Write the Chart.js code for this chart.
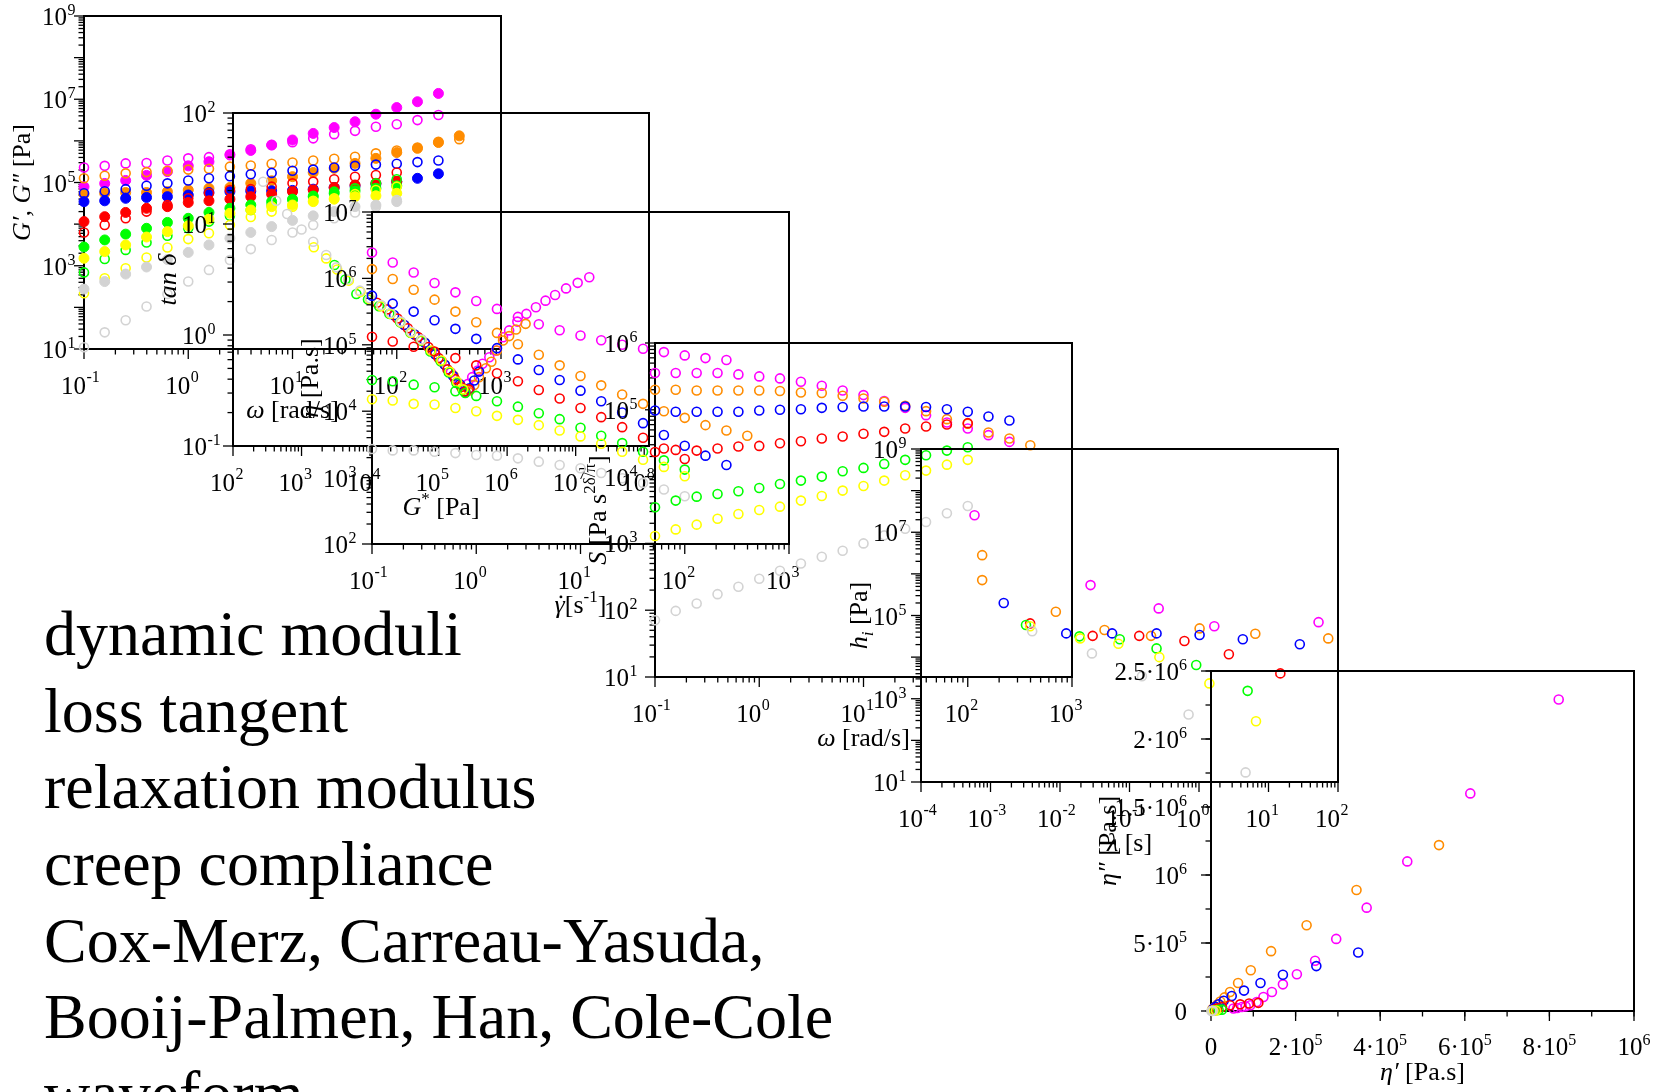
<!DOCTYPE html>
<html>
<head>
<meta charset="utf-8">
<title>rheology panels</title>
<script src="https://cdn.jsdelivr.net/npm/chart.js@4.4.1/dist/chart.umd.min.js"></script>
<style>
  html, body { margin: 0; padding: 0; background: #fff; }
  body { width: 1655px; height: 1092px; overflow: hidden; position: relative; }
  canvas { position: absolute; left: 0; top: 0; }
  #topics { position: absolute; left: 44px; top: 596px; font-family: 'Liberation Serif', 'Times New Roman', serif;
            font-size: 64px; line-height: 76.67px; color: #000; white-space: nowrap; }
</style>
</head>
<body>
<div id="topics">dynamic moduli<br>loss tangent<br>relaxation modulus<br>creep compliance<br>Cox-Merz, Carreau-Yasuda,<br>Booij-Palmen, Han, Cole-Cole<br>waveform</div>
<canvas id="p1" width="1655" height="1092"></canvas>
<canvas id="p2" width="1655" height="1092"></canvas>
<canvas id="p3" width="1655" height="1092"></canvas>
<canvas id="p4" width="1655" height="1092"></canvas>
<canvas id="p5" width="1655" height="1092"></canvas>
<canvas id="p6" width="1655" height="1092"></canvas>
<script>
// ---------- data ----------
const omega = [0.1, 0.158, 0.251, 0.398, 0.631, 1, 1.58, 2.51, 3.98, 6.31, 10, 15.8, 25.1, 39.8, 63.1, 100, 158, 251, 398];

// panel 1: G' (filled) and G'' (open) [Pa] vs omega
const p1MagentaG1 = [7.9e4, 9.5e4, 1.12e5, 1.48e5, 1.82e5, 2.51e5, 3.16e5, 4.57e5, 5.89e5, 7.94e5, 1.05e6, 1.51e6, 2.09e6, 2.88e6, 4.37e6, 6.31e6, 8.71e6, 1.38e7];
const p1MagentaG2 = [2.29e5, 2.51e5, 2.88e5, 2.95e5, 3.39e5, 3.8e5, 4.07e5, 4.79e5, 6.31e5, 7.94e5, 9.33e5, 1.15e6, 1.45e6, 1.74e6, 2.19e6, 2.51e6, 3.16e6, 4.17e6];
const p1OrangeG1 = [5.25e4, 5.5e4, 5.75e4, 5.75e4, 6.03e4, 6.61e4, 7.24e4, 7.59e4, 9.55e4, 1.1e5, 1.38e5, 1.74e5, 2.19e5, 2.88e5, 3.8e5, 5.25e5, 6.61e5, 9.12e5, 1.32e6];
const p1OrangeG2 = [1.26e5, 1.45e5, 1.66e5, 1.78e5, 1.91e5, 2.04e5, 2.14e5, 2.4e5, 2.57e5, 2.82e5, 3.02e5, 3.39e5, 3.72e5, 4.17e5, 5.01e5, 5.89e5, 6.92e5, 9.55e5, 1.1e6];
const p1BlueG1 = [3.47e4, 3.63e4, 4.17e4, 4.37e4, 4.57e4, 5.01e4, 5.75e4, 6.03e4, 6.17e4, 6.31e4, 6.46e4, 6.92e4, 7.59e4, 8.32e4, 9.33e4, 1.05e5, 1.26e5, 1.62e5];
const p1BlueG2 = [5.5e4, 6.17e4, 6.92e4, 8.32e4, 9.55e4, 1.12e5, 1.26e5, 1.41e5, 1.58e5, 1.7e5, 1.91e5, 2.04e5, 2.29e5, 2.51e5, 2.69e5, 2.82e5, 3.09e5, 3.39e5];
const p1RedG1 = [1.15e4, 1.51e4, 1.91e4, 2.4e4, 2.63e4, 3.31e4, 3.63e4, 3.98e4, 4.57e4, 5.25e4, 6.03e4, 6.61e4, 7.59e4, 8.71e4, 9.55e4, 1.05e5];
const p1RedG2 = [6.31e3, 9.55e3, 1.38e4, 2.0e4, 2.88e4, 4.17e4, 5.5e4, 6.61e4, 6.92e4, 7.94e4, 9.55e4, 1.05e5, 1.2e5, 1.38e5, 1.51e5, 1.74e5];
const p1GreenG1 = [2.82e3, 4.17e3, 5.75e3, 7.94e3, 1.1e4, 1.38e4, 1.91e4, 2.4e4, 2.88e4, 3.47e4, 3.98e4, 4.57e4, 5.5e4, 6.31e4, 7.24e4, 8.32e4];
const p1GreenG2 = [692, 1.45e3, 2.4e3, 3.63e3, 5.25e3, 7.94e3, 1.15e4, 1.58e4, 2.19e4, 2.88e4, 3.8e4, 4.79e4, 6.03e4, 7.24e4, 9.55e4, 1.2e5];
const p1YellowG1 = [1.51e3, 2.19e3, 3.16e3, 4.9e3, 6.61e3, 9.12e3, 1.32e4, 1.82e4, 2.19e4, 2.63e4, 2.88e4, 3.47e4, 3.98e4, 4.57e4, 4.79e4, 5.5e4];
const p1YellowG2 = [219, 501, 871, 1.58e3, 2.75e3, 4.37e3, 6.03e3, 9.55e3, 1.48e4, 2.0e4, 2.63e4, 3.63e4, 4.17e4, 5.25e4, 6.61e4, 7.94e4];
const p1GrayG1 = [275, 417, 631, 933, 1.41e3, 2.09e3, 3.16e3, 4.57e3, 6.31e3, 8.71e3, 1.23e4, 1.58e4, 2.0e4, 2.63e4, 2.88e4, 3.47e4];
const p1GrayG2 = [11.0, 25.1, 49.0, 105, 209, 417, 794, 1.38e3, 2.51e3, 4.17e3, 6.31e3, 9.55e3, 1.38e4, 1.91e4, 2.63e4, 3.8e4];

// panel 2: [G* (Pa), tan delta]
const p2Gray = [[275, 24.0], [427, 16.2], [617, 12.3], [1000, 8.91], [1480, 6.92], [2290, 5.25], [3240, 4.07], [4790, 3.16], [7080, 2.51], [10000, 2.14], [14500, 1.86], [20000, 1.58], [28200, 1.32], [39800, 1.07], [56200, 0.912]];
const p2Yellow = [[1510, 6.17], [2290, 4.9], [3310, 3.89], [4900, 3.09], [7240, 2.45], [10000, 2.1], [14500, 1.82], [20000, 1.55], [28200, 1.3], [39800, 1.05], [56200, 0.9], [77600, 0.724], [110000, 0.589], [145000, 0.468], [186000, 0.38], [229000, 0.324]];
const p2Green = [[3020, 4.27], [4370, 3.16], [6310, 2.34], [9330, 2.09], [13500, 1.82], [19100, 1.55], [27500, 1.3], [38900, 1.05], [55000, 0.89], [76000, 0.71], [107000, 0.58], [141000, 0.46], [182000, 0.37], [224000, 0.32], [245000, 0.3]];
const p2Red = [[12600, 1.95], [17800, 1.7], [25100, 1.41], [35500, 1.15], [50100, 0.96], [70800, 0.78], [100000, 0.62], [135000, 0.49], [174000, 0.4], [214000, 0.34], [245000, 0.31], [275000, 0.324]];
const p2Blue = [[22400, 1.51], [31600, 1.23], [44700, 1.01], [63100, 0.85], [89100, 0.67], [123000, 0.54], [162000, 0.43], [204000, 0.36], [240000, 0.31], [282000, 0.331], [331000, 0.389], [389000, 0.468]];
const p2Orange = [[31600, 1.23], [44700, 1.01], [63100, 0.85], [89100, 0.67], [123000, 0.54], [166000, 0.43], [209000, 0.35], [245000, 0.31], [282000, 0.316], [331000, 0.355], [389000, 0.417], [490000, 0.501], [589000, 0.575], [708000, 0.724], [871000, 0.891], [1.07e6, 0.977], [1.35e6, 1.12], [1.86e6, 1.26]];
const p2Magenta = [[56200, 0.912], [79400, 0.72], [112000, 0.58], [151000, 0.46], [195000, 0.37], [240000, 0.31], [269000, 0.363], [309000, 0.417], [372000, 0.479], [437000, 0.55], [550000, 0.631], [692000, 0.724], [871000, 0.955], [1.07e6, 1.1], [1.41e6, 1.32], [1.91e6, 1.55], [2.63e6, 1.78], [3.63e6, 2.04], [5.01e6, 2.29], [7.24e6, 2.63], [1.07e7, 2.95], [1.58e7, 3.31]];

// panel 3: eta [Pa.s] vs shear rate (same grid as omega)
const p3Magenta = [2.45e6, 1.74e6, 1.23e6, 8.51e5, 6.17e5, 4.57e5, 3.47e5, 2.63e5, 2.04e5, 1.66e5, 1.38e5, 1.17e5, 1.0e5, 8.71e4, 7.76e4, 6.92e4, 6.31e4, 5.89e4];
const p3Orange = [1.38e6, 9.77e5, 6.76e5, 4.79e5, 3.16e5, 2.19e5, 1.51e5, 1.02e5, 7.08e4, 4.9e4, 3.39e4, 2.45e4, 1.78e4, 1.29e4, 1.0e4, 7.94e3, 6.17e3, 5.13e3, 4.27e3];
const p3Blue = [5.5e5, 4.17e5, 3.16e5, 2.34e5, 1.74e5, 1.23e5, 8.91e4, 6.03e4, 4.17e4, 2.95e4, 2.04e4, 1.41e4, 9.55e3, 6.61e3, 4.37e3, 3.02e3, 2.14e3, 1.55e3];
const p3Red = [1.32e5, 1.12e5, 9.33e4, 7.94e4, 6.31e4, 4.9e4, 3.72e4, 2.82e4, 2.09e4, 1.55e4, 1.12e4, 8.13e3, 5.75e3, 3.98e3, 2.75e3, 1.91e3];
const p3Green = [2.95e4, 2.82e4, 2.51e4, 2.29e4, 2.0e4, 1.7e4, 1.41e4, 1.17e4, 9.33e3, 7.59e3, 5.62e3, 4.27e3, 3.31e3, 2.45e3, 1.82e3, 1.32e3];
const p3Yellow = [1.51e4, 1.45e4, 1.29e4, 1.26e4, 1.12e4, 1.0e4, 8.51e3, 7.41e3, 6.17e3, 5.13e3, 4.17e3, 3.24e3, 2.45e3, 1.86e3, 1.45e3, 1.05e3];
const p3Gray = [2.69e3, 2.57e3, 2.57e3, 2.45e3, 2.34e3, 2.19e3, 2.14e3, 1.95e3, 1.74e3, 1.55e3, 1.38e3, 1.17e3, 977, 832, 661, 525];

// panel 4: S vs omega
const p4Magenta = [3.55e5, 3.55e5, 3.55e5, 3.55e5, 3.39e5, 3.16e5, 2.95e5, 2.63e5, 2.29e5, 1.95e5, 1.66e5, 1.35e5, 1.07e5, 8.32e4, 6.46e4, 5.25e4, 4.17e4, 3.31e4];
const p4Orange = [2.0e5, 2.0e5, 1.95e5, 1.95e5, 1.95e5, 1.95e5, 1.91e5, 1.82e5, 1.78e5, 1.62e5, 1.48e5, 1.32e5, 1.15e5, 9.55e4, 7.24e4, 6.17e4, 4.57e4, 3.72e4, 2.95e4];
const p4Blue = [9.77e4, 9.33e4, 9.33e4, 9.33e4, 9.33e4, 9.77e4, 1.0e5, 1.02e5, 1.07e5, 1.1e5, 1.12e5, 1.12e5, 1.12e5, 1.1e5, 1.02e5, 9.33e4, 7.94e4, 6.92e4];
const p4Red = [2.34e4, 2.51e4, 2.45e4, 2.63e4, 2.82e4, 2.88e4, 3.16e4, 3.39e4, 3.72e4, 3.98e4, 4.37e4, 4.68e4, 5.25e4, 5.62e4, 6.03e4, 6.31e4];
const p4Green = [3.47e3, 4.37e3, 5.01e3, 5.5e3, 6.03e3, 6.76e3, 7.76e3, 8.71e3, 1.0e4, 1.2e4, 1.35e4, 1.55e4, 1.78e4, 2.09e4, 2.45e4, 2.75e4];
const p4Yellow = [1.29e3, 1.62e3, 1.91e3, 2.34e3, 2.75e3, 3.16e3, 3.55e3, 4.37e3, 5.13e3, 6.17e3, 7.24e3, 8.71e3, 1.05e4, 1.23e4, 1.51e4, 1.78e4];
const p4Gray = [70.8, 97.7, 126, 174, 224, 295, 389, 501, 631, 776, 1.0e3, 1.32e3, 1.66e3, 2.09e3, 2.82e3, 3.63e3];

// panel 5: [lambda (s), h_i (Pa)]
const p5Magenta = [[5.89e-4, 2.57e7], [2.75e-2, 5.37e5], [0.263, 1.48e5], [1.66, 5.5e4], [52.5, 6.92e4]];
const p5Orange = [[7.59e-4, 2.82e6], [7.59e-4, 7.08e5], [8.71e-3, 1.23e5], [4.37e-2, 4.47e4], [0.204, 3.24e4], [1.02, 4.9e4], [6.46, 3.63e4], [72.4, 2.82e4]];
const p5Blue = [[1.55e-3, 2.0e5], [1.23e-2, 3.72e4], [5.62e-2, 3.72e4], [0.245, 3.72e4], [1.02, 3.39e4], [4.27, 2.69e4], [28.2, 2.04e4]];
const p5Red = [[3.72e-3, 6.46e4], [2.95e-2, 3.24e4], [0.138, 3.24e4], [0.617, 2.45e4], [2.69, 1.17e4], [14.8, 4.07e3]];
const p5Green = [[3.24e-3, 5.89e4], [1.91e-2, 3.16e4], [7.24e-2, 2.69e4], [0.245, 1.62e4], [0.912, 6.46e3], [5.01, 1.55e3]];
const p5Yellow = [[3.72e-3, 5.5e4], [1.95e-2, 2.82e4], [6.92e-2, 2.09e4], [0.269, 1.0e4], [1.41, 2.34e3], [6.61, 288]];
const p5Gray = [[3.98e-3, 4.17e4], [2.88e-2, 1.23e4], [0.151, 3.47e3], [0.708, 417], [4.68, 17.0]];

// panel 6: Cole-Cole [eta', eta''] in Pa.s
const p6Magenta = [[8.22e5, 2.29e6], [6.13e5, 1.6e6], [4.64e5, 1.1e6], [3.68e5, 7.6e5], [2.96e5, 5.3e5], [2.46e5, 3.7e5], [2.03e5, 2.7e5], [1.7e5, 1.96e5], [1.44e5, 1.4e5], [1.24e5, 1.03e5], [1.08e5, 6.6e4], [9.3e4, 4.2e4], [8.2e4, 3.4e4], [7.3e4, 2.9e4], [6.2e4, 2.2e4], [5.3e4, 1.8e4]];
const p6Orange = [[5.39e5, 1.22e6], [3.44e5, 8.9e5], [2.26e5, 6.3e5], [1.42e5, 4.4e5], [9.4e4, 3.0e5], [6.4e4, 2.06e5], [4.5e4, 1.4e5], [3.2e4, 1.0e5], [2.2e4, 7.0e4], [1.5e4, 4.8e4], [1.0e4, 3.2e4], [6.0e3, 2.0e4], [3.0e3, 1.2e4]];
const p6Blue = [[3.48e5, 4.3e5], [2.49e5, 3.3e5], [1.7e5, 2.67e5], [1.17e5, 2.06e5], [7.8e4, 1.5e5], [4.9e4, 1.1e5], [3.0e4, 7.5e4], [1.8e4, 5.0e4], [1.0e4, 3.0e4], [5.0e3, 1.5e4]];
const p6Red = [[1.12e5, 6.0e4], [9.0e4, 5.5e4], [6.9e4, 4.9e4], [4.5e4, 4.2e4], [2.6e4, 2.9e4], [1.4e4, 1.8e4], [6.0e3, 8.0e3]];
const p6Green = [[2.6e4, 1.0e4], [1.8e4, 8.0e3], [1.1e4, 5.0e3], [5.0e3, 2.0e3]];
const p6Yellow = [[1.2e4, 4.0e3], [6.0e3, 2.0e3], [2.0e3, 1.0e3]];
const p6Gray = [[4.0e3, 1.0e3], [1.0e3, 500]];

// tick labels (decade exponents for the log axes)
const p1XExp = [-1, 0, 1, 2, 3], p1YExp = [1, 3, 5, 7, 9];
const p2XExp = [2, 3, 4, 5, 6, 7, 8], p2YExp = [-1, 0, 1, 2];
const p3XExp = [-1, 0, 1, 2, 3], p3YExp = [2, 3, 4, 5, 6, 7];
const p4XExp = [-1, 0, 1, 2, 3], p4YExp = [1, 2, 3, 4, 5, 6];
const p5XExp = [-4, -3, -2, -1, 0, 1, 2], p5YExp = [1, 3, 5, 7, 9];
const p6XTicks = [0, 2e5, 4e5, 6e5, 8e5, 1e6];
const p6XLabels = [['0', ''], ['2·10', '5'], ['4·10', '5'], ['6·10', '5'], ['8·10', '5'], ['10', '6']];
const p6YTicks = [0, 5e5, 1e6, 1.5e6, 2e6, 2.5e6];
const p6YLabels = [['0', ''], ['5·10', '5'], ['10', '6'], ['1.5·10', '6'], ['2·10', '6'], ['2.5·10', '6']];

const colors = { gray: '#d3d3d3', yellow: '#ffff00', green: '#00ff00', red: '#ff0000', blue: '#0000ff', orange: '#ff8c00', magenta: '#ff00ff' };

// ---------- helpers ----------
const W = 1655, H = 1092;
const FONT = "'Liberation Serif', 'Times New Roman', serif";
const fontOf = (size, italic) => (italic ? 'italic ' : '') + size + 'px ' + FONT;

function pts(xs, ys) { return ys.map((y, i) => ({ x: xs[i], y: y })); }
function pairs(list) { return list.map(p => ({ x: p[0], y: p[1] })); }
function open(data, color) {
    return { data: data, pointStyle: 'circle', pointRadius: 4.5, pointBorderWidth: 1.6, pointBorderColor: color,
             pointBackgroundColor: 'rgba(0,0,0,0)', showLine: false, clip: false };
}
function filled(data, color) {
    return { data: data, pointStyle: 'circle', pointRadius: 5, pointBorderWidth: 1, pointBorderColor: color,
             pointBackgroundColor: color, showLine: false, clip: false };
}

function decades(lo, hi) { const out = []; for (let e = lo; e <= hi; e++) out.push(Math.pow(10, e)); return out; }
function minors(min, max) {
    const out = [];
    for (let e = Math.floor(Math.log10(min)); e < Math.ceil(Math.log10(max)); e++) {
        for (let m = 2; m <= 9; m++) {
            const v = m * Math.pow(10, e);
            if (v > min * 1.0001 && v < max * 0.9999) out.push(v);
        }
    }
    return out;
}
function linMinors(min, max, step) { const out = []; for (let v = min; v <= max + 1e-9; v += step) out.push(v); return out; }

function partsWidth(ctx, parts, size) {
    let w = 0;
    parts.forEach(p => { ctx.font = fontOf(p.sup || p.sub ? Math.round(size * 0.65) : size, p.it); w += ctx.measureText(p.t).width; });
    return w;
}
function drawParts(ctx, parts, x, y, size, align) {
    const w = partsWidth(ctx, parts, size);
    let cx = align === 'center' ? x - w / 2 : (align === 'right' ? x - w : x);
    ctx.textAlign = 'left';
    ctx.textBaseline = 'alphabetic';
    parts.forEach(p => {
        const s = p.sup || p.sub ? Math.round(size * 0.65) : size;
        ctx.font = fontOf(s, p.it);
        const dy = p.sup ? -size * 0.42 : (p.sub ? size * 0.22 : 0);
        ctx.fillText(p.t, cx, y + dy);
        const pw = ctx.measureText(p.t).width;
        if (p.dot) {
            ctx.beginPath();
            ctx.arc(cx + pw * 0.62, y - size * 0.62, size * 0.055, 0, Math.PI * 2);
            ctx.fill();
        }
        cx += pw;
    });
}

// axes, frame and labels drawn with the chart's own scales
function framePlugin(opt) {
    return {
        id: 'frame',
        beforeDatasetsDraw(chart) {
            const ctx = chart.ctx, a = chart.chartArea, sx = chart.scales.x, sy = chart.scales.y;
            ctx.save();
            ctx.fillStyle = '#000';
            ctx.strokeStyle = '#000';
            const seg = (x1, y1, x2, y2) => { ctx.beginPath(); ctx.moveTo(x1, y1); ctx.lineTo(x2, y2); ctx.stroke(); };

            ctx.lineWidth = 1.3;
            opt.xMinor.forEach(v => { const x = sx.getPixelForValue(v); seg(x, a.bottom, x, a.bottom + 5.5); });
            opt.xMajor.forEach(v => { const x = sx.getPixelForValue(v); seg(x, a.bottom, x, a.bottom + 10); });
            opt.yMinor.forEach(v => { const y = sy.getPixelForValue(v); seg(a.left - 5.5, y, a.left, y); });
            opt.yMajor.forEach(v => { const y = sy.getPixelForValue(v); seg(a.left - 10, y, a.left, y); });

            ctx.lineWidth = 2;
            ctx.strokeRect(a.left, a.top, a.right - a.left, a.bottom - a.top);

            const base = 25, sup = 16;
            if (opt.log) {
                opt.xExp.forEach(e => {
                    const x = sx.getPixelForValue(Math.pow(10, e));
                    ctx.font = fontOf(base); ctx.textAlign = 'right'; ctx.textBaseline = 'alphabetic';
                    ctx.fillText('10', x + 2, a.bottom + 45);
                    ctx.font = fontOf(sup); ctx.textAlign = 'left';
                    ctx.fillText(String(e), x + 2.5, a.bottom + 33);
                });
                opt.yExp.forEach(e => {
                    const y = sy.getPixelForValue(Math.pow(10, e));
                    ctx.font = fontOf(base); ctx.textAlign = 'right'; ctx.textBaseline = 'alphabetic';
                    ctx.fillText('10', a.left - opt.yGap, y + 9);
                    ctx.font = fontOf(sup); ctx.textAlign = 'left';
                    ctx.fillText(String(e), a.left - opt.yGap + 0.5, y - 1);
                });
            } else {
                opt.xTicks.forEach((v, i) => {
                    const x = sx.getPixelForValue(v), l = opt.xLabels[i];
                    const parts = [{ t: l[0] }];
                    if (l[1]) parts.push({ t: l[1], sup: true });
                    drawParts(ctx, parts, x, a.bottom + 44, base, 'center');
                });
                opt.yTicks.forEach((v, i) => {
                    const y = sy.getPixelForValue(v), l = opt.yLabels[i];
                    const parts = [{ t: l[0] }];
                    if (l[1]) parts.push({ t: l[1], sup: true });
                    drawParts(ctx, parts, a.left - opt.yGap, y + 9, base, 'right');
                });
            }

            // axis titles
            drawParts(ctx, opt.xTitle, (a.left + a.right) / 2, a.bottom + 69, 26, 'center');
            ctx.save();
            ctx.translate(opt.yTitleX, (a.top + a.bottom) / 2);
            ctx.rotate(-Math.PI / 2);
            drawParts(ctx, opt.yTitle, 0, 9, 26, 'center');
            ctx.restore();

            ctx.restore();
        }
    };
}

function makePanel(id, box, xs, ys, datasets, deco) {
    new Chart(document.getElementById(id), {
        type: 'scatter',
        data: { datasets: datasets },
        options: {
            responsive: false,
            animation: false,
            devicePixelRatio: 1,
            events: [],
            layout: { padding: { left: box[0], top: box[1], right: W - box[2], bottom: H - box[3] } },
            scales: {
                x: Object.assign({ display: false }, xs),
                y: Object.assign({ display: false }, ys)
            },
            plugins: { legend: { display: false }, tooltip: { enabled: false } }
        },
        plugins: [framePlugin(deco)]
    });
}

function logDeco(xMin, xMax, yMin, yMax, xExp, yExp, yGap, yTitleX, xTitle, yTitle) {
    return {
        log: true,
        xMajor: decades(Math.ceil(Math.log10(xMin) - 1e-9), Math.floor(Math.log10(xMax) + 1e-9)),
        yMajor: decades(Math.ceil(Math.log10(yMin) - 1e-9), Math.floor(Math.log10(yMax) + 1e-9)),
        xMinor: minors(xMin, xMax), yMinor: minors(yMin, yMax),
        xExp: xExp, yExp: yExp, yGap: yGap, yTitleX: yTitleX, xTitle: xTitle, yTitle: yTitle
    };
}
const logAxis = (min, max) => ({ type: 'logarithmic', min: min, max: max });

// ---------- panel 1: dynamic moduli ----------
makePanel('p1', [84, 16, 501, 349], logAxis(0.1, 1000), logAxis(10, 1e9), [
    open(pts(omega, p1GrayG2), colors.gray), filled(pts(omega, p1GrayG1), colors.gray),
    open(pts(omega, p1YellowG2), colors.yellow), filled(pts(omega, p1YellowG1), colors.yellow),
    open(pts(omega, p1GreenG2), colors.green), filled(pts(omega, p1GreenG1), colors.green),
    open(pts(omega, p1RedG2), colors.red), filled(pts(omega, p1RedG1), colors.red),
    open(pts(omega, p1BlueG2), colors.blue), filled(pts(omega, p1BlueG1), colors.blue),
    open(pts(omega, p1OrangeG2), colors.orange), filled(pts(omega, p1OrangeG1), colors.orange),
    open(pts(omega, p1MagentaG2), colors.magenta), filled(pts(omega, p1MagentaG1), colors.magenta)
], logDeco(0.1, 1000, 10, 1e9, p1XExp, p1YExp, 17, 21,
    [{ t: 'ω', it: true }, { t: ' [rad/s]' }],
    [{ t: 'G′, G″', it: true }, { t: ' [Pa]' }]));

// ---------- panel 2: loss tangent ----------
makePanel('p2', [233, 113, 649, 446], logAxis(100, 1.175e8), logAxis(0.1, 100), [
    open(pairs(p2Gray), colors.gray), open(pairs(p2Yellow), colors.yellow), open(pairs(p2Green), colors.green),
    open(pairs(p2Red), colors.red), open(pairs(p2Blue), colors.blue), open(pairs(p2Orange), colors.orange),
    open(pairs(p2Magenta), colors.magenta)
], logDeco(100, 1.175e8, 0.1, 100, p2XExp, p2YExp, 26, 167,
    [{ t: 'G', it: true }, { t: '*', sup: true }, { t: ' [Pa]' }],
    [{ t: 'tan δ', it: true }]));

// ---------- panel 3: viscosity ----------
makePanel('p3', [372, 212, 789, 544], logAxis(0.1, 1000), logAxis(100, 1e7), [
    open(pts(omega, p3Gray), colors.gray), open(pts(omega, p3Yellow), colors.yellow), open(pts(omega, p3Green), colors.green),
    open(pts(omega, p3Red), colors.red), open(pts(omega, p3Blue), colors.blue), open(pts(omega, p3Orange), colors.orange),
    open(pts(omega, p3Magenta), colors.magenta)
], logDeco(0.1, 1000, 100, 1e7, p3XExp, p3YExp, 24, 309,
    [{ t: 'γ', it: true, dot: true }, { t: '[s' }, { t: '-1', sup: true }, { t: ']' }],
    [{ t: 'η', it: true }, { t: ' [Pa.s]' }]));

// ---------- panel 4: S ----------
makePanel('p4', [655, 343, 1072, 677], logAxis(0.1, 1000), logAxis(10, 1e6), [
    open(pts(omega, p4Gray), colors.gray), open(pts(omega, p4Yellow), colors.yellow), open(pts(omega, p4Green), colors.green),
    open(pts(omega, p4Red), colors.red), open(pts(omega, p4Blue), colors.blue), open(pts(omega, p4Orange), colors.orange),
    open(pts(omega, p4Magenta), colors.magenta)
], logDeco(0.1, 1000, 10, 1e6, p4XExp, p4YExp, 26, 597,
    [{ t: 'ω', it: true }, { t: ' [rad/s]' }],
    [{ t: 'S', it: true }, { t: ' [Pa s' }, { t: '2δ/π', sup: true }, { t: ']' }]));

// ---------- panel 5: relaxation spectrum ----------
makePanel('p5', [921, 449, 1338, 782], logAxis(1e-4, 100), logAxis(10, 1e9), [
    open(pairs(p5Gray), colors.gray), open(pairs(p5Yellow), colors.yellow), open(pairs(p5Green), colors.green),
    open(pairs(p5Red), colors.red), open(pairs(p5Blue), colors.blue), open(pairs(p5Orange), colors.orange),
    open(pairs(p5Magenta), colors.magenta)
], logDeco(1e-4, 100, 10, 1e9, p5XExp, p5YExp, 23, 858,
    [{ t: 'λ', it: true }, { t: ' [s]' }],
    [{ t: 'h', it: true }, { t: 'i', it: true, sub: true }, { t: ' [Pa]' }]));

// ---------- panel 6: Cole-Cole ----------
makePanel('p6', [1211, 671, 1634, 1011], { type: 'linear', min: 0, max: 1e6 }, { type: 'linear', min: 0, max: 2.5e6 }, [
    open(pairs(p6Gray), colors.gray), open(pairs(p6Yellow), colors.yellow), open(pairs(p6Green), colors.green),
    open(pairs(p6Red), colors.red), open(pairs(p6Blue), colors.blue), open(pairs(p6Orange), colors.orange),
    open(pairs(p6Magenta), colors.magenta)
], {
    log: false,
    xMajor: p6XTicks, yMajor: p6YTicks,
    xMinor: linMinors(0, 1e6, 1e5), yMinor: linMinors(0, 2.5e6, 2.5e5),
    xTicks: p6XTicks, xLabels: p6XLabels, yTicks: p6YTicks, yLabels: p6YLabels,
    yGap: 24, yTitleX: 1107,
    xTitle: [{ t: 'η′', it: true }, { t: ' [Pa.s]' }],
    yTitle: [{ t: 'η″', it: true }, { t: ' [Pa.s]' }]
});
</script>
</body>
</html>
